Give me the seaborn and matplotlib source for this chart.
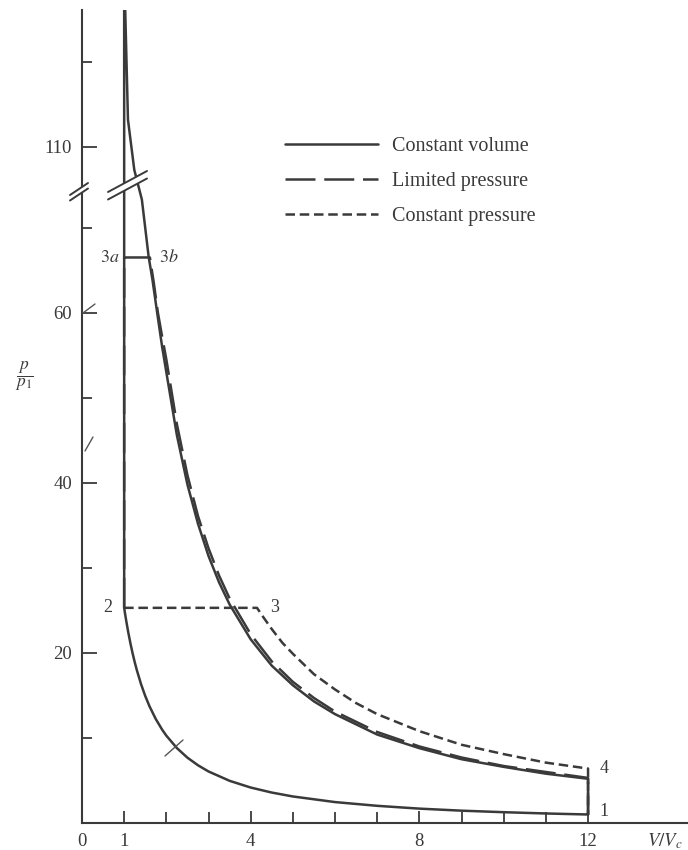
import numpy as np
import pandas as pd
import matplotlib
matplotlib.use("Agg")
import matplotlib.pyplot as plt
from matplotlib.lines import Line2D
from matplotlib.patches import Polygon
import seaborn as sns

# --- values (p/p1 against V/Vc) ---
# compression 1 -> 2 (common to all three cycles)
comp_v = [12, 11, 10, 9, 8, 7, 6, 5, 4.5, 4, 3.5, 3, 2.75, 2.5, 2.25, 2, 1.9, 1.75, 1.6,
          1.5, 1.4, 1.3, 1.25, 1.2, 1.15, 1.1, 1.05, 1.02, 1]
comp_p = [1.0, 1.12, 1.27, 1.45, 1.69, 2.02, 2.46, 3.12, 3.58, 4.17, 4.96, 6.06, 6.79, 7.68,
          8.81, 10.27, 10.98, 12.22, 13.73, 14.93, 16.33, 17.98, 18.92, 19.95, 21.09, 22.34,
          23.74, 24.65, 25.3]

# constant volume: 2 -> 3 at V/Vc = 1, then expansion 3 -> 4
cv_v = [1, 1.09, 1.24, 1.42, 1.58, 1.67, 1.8, 1.9, 2, 2.25, 2.5, 2.75,
        3, 3.25, 3.5, 4, 4.5, 5, 5.5, 6, 7, 8, 9, 10, 11, 12]
cv_p = [131, 113.2, 107.3, 73.3, 66.6, 63.9, 59.4, 56.0, 53.0,
        45.6, 39.8, 35.2, 31.4, 28.3, 25.7, 21.6, 18.5, 16.2, 14.3, 12.8, 10.4, 8.8, 7.5, 6.6,
        5.8, 5.2]

# limited pressure: 2 -> 3a -> 3b, then expansion
lp_v = [1, 1, 1.61, 1.7, 1.8, 1.9, 2, 2.25, 2.5, 2.75, 3, 3.25, 3.5, 4, 4.5, 5, 5.5, 6, 7, 8,
        9, 10, 11, 12]
lp_p = [25.3, 66.5, 66.5, 63.6, 60.0, 57.2, 54.5, 46.9, 40.9, 36.1, 32.3, 29.1, 26.4, 22.2,
        19.0, 16.6, 14.7, 13.1, 10.7, 9.0, 7.7, 6.7, 6.0, 5.3]

# constant pressure: 2 -> 3, then expansion
cp_v = [1, 4.15, 4.3, 4.5, 4.75, 5, 5.5, 6, 6.5, 7, 8, 9, 10, 11, 12]
cp_p = [25.3, 25.3, 24.2, 22.8, 21.2, 19.9, 17.5, 15.7, 14.1, 12.8, 10.8, 9.2, 8.1, 7.1, 6.4]

cycles = ["Constant volume", "Limited pressure", "Constant pressure"]
point_labels = ["1", "2", "3", "4", "$3a$", "$3b$"]

ink = "#3a3a3a"

# build long-form table, each cycle is one closed path ending back at point 1
paths = {
    cycles[0]: (comp_v + cv_v + [comp_v[0]], comp_p + cv_p + [comp_p[0]]),
    cycles[1]: (lp_v + [comp_v[0]], lp_p + [comp_p[0]]),
    cycles[2]: (cp_v + [comp_v[0]], cp_p + [comp_p[0]]),
}
frames = []
for name, (vv, pp) in paths.items():
    frames.append(pd.DataFrame({"V": vv, "p": pp, "cycle": name, "step": range(len(vv))}))
df = pd.concat(frames, ignore_index=True)

# broken y axis: 73.5..104.6 squeezed into a thin band, above it shifted down by 30.5
LO, HI, SHIFT = 73.5, 104.6, 30.5
TOP = HI - SHIFT


def fwd(y):
    y = np.asarray(y, dtype=float)
    return np.where(y <= LO, y,
                    np.where(y >= HI, y - SHIFT, LO + (y - LO) * (TOP - LO) / (HI - LO)))


def inv(d):
    d = np.asarray(d, dtype=float)
    return np.where(d <= LO, d,
                    np.where(d >= TOP, d + SHIFT, LO + (d - LO) * (HI - LO) / (TOP - LO)))


sns.set_theme(style="white")
plt.rcParams["font.family"] = ["Liberation Serif", "DejaVu Serif"]
plt.rcParams["mathtext.fontset"] = "stix"

fig = plt.figure(figsize=(6.88, 8.5), dpi=100)
ax = fig.add_axes([82 / 688, 27 / 850, 606 / 688, 813 / 850])
ax.set_yscale("function", functions=(fwd, inv))

dash_map = {cycles[0]: "", cycles[1]: (12, 3.5), cycles[2]: (3.8, 1.9)}
sns.lineplot(data=df, x="V", y="p", style="cycle", dashes=dash_map, estimator=None,
             sort=False, color=ink, linewidth=1.8, legend=False, ax=ax)

ax.set_xlim(0, 14.37)
ax.set_ylim(0, 126.1)
ax.set_xlabel("")
ax.set_ylabel("")

# ticks
ax.set_xticks([0, 1, 4, 8, 12])
ax.set_xticklabels(["0", "1", "4", "8", "12"])
ax.set_xticks([2, 3, 5, 6, 7, 9, 10, 11], minor=True)
ax.set_yticks([20, 40, 60, 110])
ax.set_yticklabels(["20", "40", "60", "110"])
ax.set_yticks([10, 30, 50, 70, 120], minor=True)
ax.tick_params(which="both", direction="in", color=ink, width=1.3, bottom=True, left=True,
               labelsize=13.5, labelcolor=ink, pad=7)
ax.tick_params(axis="y", which="major", length=10.8)
ax.tick_params(axis="y", which="minor", length=7.2)
ax.tick_params(axis="x", which="major", length=9)
ax.tick_params(axis="x", which="minor", length=8)
for s in ["top", "right"]:
    ax.spines[s].set_visible(False)
for s in ["left", "bottom"]:
    ax.spines[s].set_color(ink)
    ax.spines[s].set_linewidth(1.5)


def to_ax(px, py):
    return ((px - 82) / 606, (823 - py) / 813)


# break marks: white gap between two parallel strokes
def break_mark(p0, p1, off):
    a0, a1 = to_ax(*p0), to_ax(*p1)
    b0, b1 = to_ax(p0[0], p0[1] + off), to_ax(p1[0], p1[1] + off)
    ax.add_patch(Polygon([a0, a1, b1, b0], closed=True, transform=ax.transAxes,
                         facecolor="white", edgecolor="none", clip_on=False, zorder=5))
    for s0, s1 in [(a0, a1), (b0, b1)]:
        ax.plot([s0[0], s1[0]], [s0[1], s1[1]], transform=ax.transAxes, color=ink,
                lw=1.4, clip_on=False, zorder=6)


break_mark((70, 195), (88, 183), 5.5)
break_mark((108, 192), (147, 171), 7.5)

# small stray strokes visible in the original
for p0, p1 in [((83, 313), (95, 304)), ((85, 451), (93, 437)), ((165, 756), (183, 740))]:
    a0, a1 = to_ax(*p0), to_ax(*p1)
    ax.plot([a0[0], a1[0]], [a0[1], a1[1]], transform=ax.transAxes, color="#555555",
            lw=1.0, clip_on=False, zorder=4)

# state point labels
fs = 13
ax.text(12.28, 1.3, point_labels[0], ha="left", va="center", fontsize=fs, color=ink)
ax.text(0.72, 25.3, point_labels[1], ha="right", va="center", fontsize=fs, color=ink)
ax.text(4.45, 25.3, point_labels[2], ha="left", va="center", fontsize=fs, color=ink)
ax.text(12.28, 6.4, point_labels[3], ha="left", va="center", fontsize=fs, color=ink)
ax.text(0.88, 66.5, point_labels[4], ha="right", va="center", fontsize=fs, color=ink)
ax.text(1.82, 66.5, point_labels[5], ha="left", va="center", fontsize=fs, color=ink)

# axis titles
ax.text(13.83, -2.1, r"$V/V_c$", ha="center", va="center", fontsize=13.5, color=ink,
        clip_on=False)
fig.text(24 / 688, 1 - 376 / 850, r"$\dfrac{p}{p_1}$", ha="center", va="center",
         fontsize=12.5, color=ink)

# legend
handles = [Line2D([], [], color=ink, lw=1.8)]
handles.append(Line2D([], [], color=ink, lw=1.8, dashes=dash_map[cycles[1]]))
handles.append(Line2D([], [], color=ink, lw=1.8, dashes=dash_map[cycles[2]]))
leg = ax.legend(handles, cycles, loc="upper left", bbox_to_anchor=(285 / 688, 1 - 137 / 850),
                bbox_transform=fig.transFigure, frameon=False, fontsize=14.5,
                handlelength=4.62, handletextpad=0.7, labelspacing=0.78,
                borderpad=0, borderaxespad=0)
for t in leg.get_texts():
    t.set_color(ink)

fig.savefig("out.png", dpi=100)
